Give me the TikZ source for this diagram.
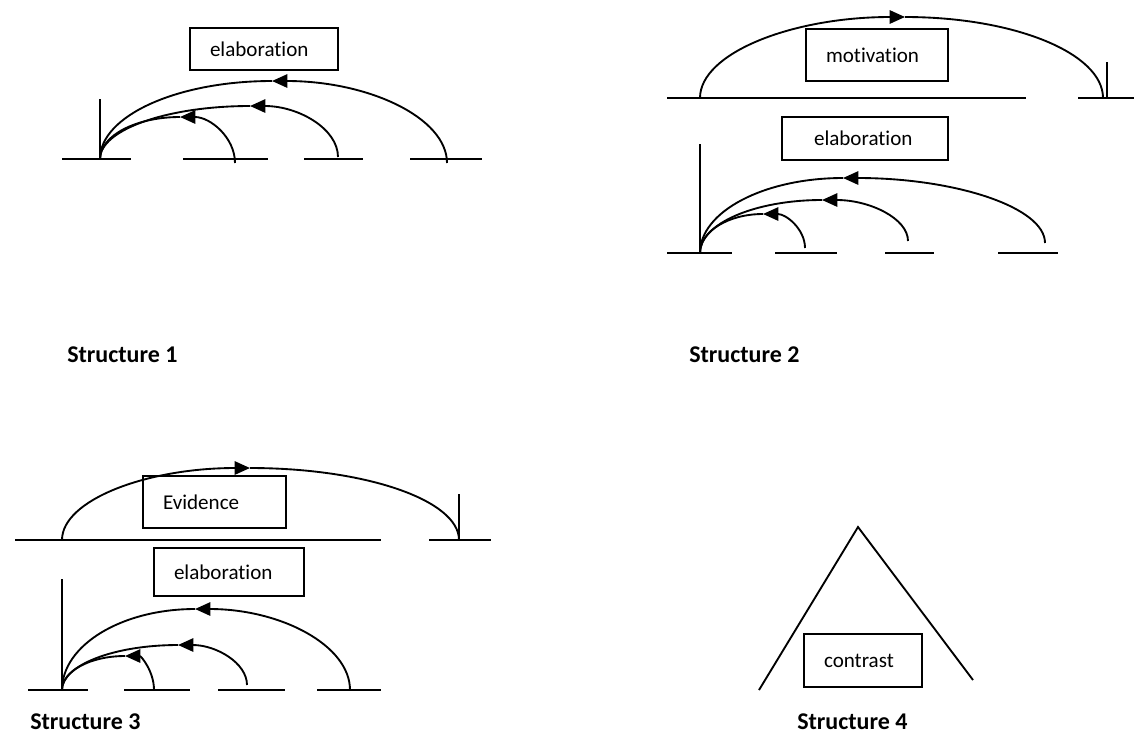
\documentclass[tikz,border=0pt]{standalone}
\usepackage{fontspec}
\setmainfont{Carlito}[Ligatures=NoCommon]
\usetikzlibrary{arrows.meta,calc}

% arc from an end point over a top point down to a root; the tip at the top points toward the root
\newcommand\arcback[3]{%
  \draw[ln,tip] let \p1=(#1),\p2=(#2) in (#1)
    arc[start angle=0,end angle=90,x radius=\x1-\x2,y radius=\y2-\y1];
  \draw[ln] let \p2=(#2),\p3=(#3) in (#2)
    arc[start angle=90,end angle=180,x radius=\x2-\x3,y radius=\y2-\y3];}
% arc from a root over a top point down to an end point; the tip at the top points away from the root
\newcommand\arcfwd[3]{%
  \draw[ln,tip] let \p1=(#1),\p2=(#2) in (#1)
    arc[start angle=180,end angle=90,x radius=\x2-\x1,y radius=\y2-\y1];
  \draw[ln] let \p2=(#2),\p3=(#3) in (#2)
    arc[start angle=90,end angle=0,x radius=\x3-\x2,y radius=\y2-\y3];}

\begin{document}
\begin{tikzpicture}[x=0.75pt,y=-0.75pt,
  ln/.style={line width=1.4pt},
  tip/.style={-{Triangle[length=11.5pt,width=10pt]}},
  relbox/.style={draw,line width=1.3pt,align=left,inner xsep=15pt,inner ysep=0pt,
    font=\fontsize{15.8}{18}\selectfont},
  caption/.style={anchor=base west,inner sep=0pt,font=\fontsize{18}{21}\selectfont\bfseries}]
\useasboundingbox (0,0) rectangle (1134,733);

%% ---------------- Structure 1 ----------------
\node[relbox,text width=81pt,minimum height=31.5pt] (s1box) at (264,49) {elaboration};
\coordinate (s1root) at (100,159);
\coordinate (s1top)  at (100,99);
\draw[ln] (s1top) -- (s1root);
\foreach \a/\b in {62/131,183/268,304/363,410/482}
  \draw[ln] (\a,159) -- (\b,159);
\coordinate (s1ta) at (180,117); \coordinate (s1ea) at (235,163);
\coordinate (s1tb) at (250,106); \coordinate (s1eb) at (338,157);
\coordinate (s1tc) at (272,81);  \coordinate (s1ec) at (447,163);
\arcback{s1ea}{s1ta}{s1root}
\arcback{s1eb}{s1tb}{s1root}
\arcback{s1ec}{s1tc}{s1root}
\node[caption] (cap1) at (67,362) {Structure 1};

%% ---------------- Structure 2 ----------------
% upper level: motivation
\node[relbox,text width=76.5pt,minimum height=39pt] (s2mot) at (877,55) {motivation};
\draw[ln] (667,98) -- (1026,98);
\draw[ln] (1078,98) -- (1134,98);
\coordinate (s2nuc) at (1107,98);
\coordinate (s2nuctop) at (1107,62);
\draw[ln] (s2nuctop) -- (s2nuc);
\coordinate (s2sat) at (700,98);
\coordinate (s2mtop) at (905,17);
\coordinate (s2mend) at (1103,98);
\arcfwd{s2sat}{s2mtop}{s2mend}
% lower level: elaboration
\node[relbox,inner xsep=24pt,text width=76.5pt,minimum height=32.25pt] (s2elab) at (865,138.5) {elaboration};
\coordinate (s2root) at (700,253);
\coordinate (s2vtop) at (700,144);
\draw[ln] (s2vtop) -- (s2root);
\foreach \a/\b in {667/732,775/837,885/934,998/1058}
  \draw[ln] (\a,253) -- (\b,253);
\coordinate (s2ta) at (763,214); \coordinate (s2ea) at (805,248);
\coordinate (s2tb) at (822,200); \coordinate (s2eb) at (908,241);
\coordinate (s2tc) at (843,178); \coordinate (s2ec) at (1045,243);
\arcback{s2ea}{s2ta}{s2root}
\arcback{s2eb}{s2tb}{s2root}
\arcback{s2ec}{s2tc}{s2root}
\node[caption] (cap2) at (689,362) {Structure 2};

%% ---------------- Structure 3 ----------------
% upper level: evidence
\node[relbox,text width=77.25pt,minimum height=39pt] (s3ev) at (214.5,502) {Evidence};
\draw[ln] (15,540) -- (381,540);
\draw[ln] (429,540) -- (491,540);
\coordinate (s3nuc) at (459,540);
\coordinate (s3nuctop) at (459,494);
\draw[ln] (s3nuctop) -- (s3nuc);
\coordinate (s3sat) at (62,540);
\coordinate (s3etop) at (250,468);
\arcfwd{s3sat}{s3etop}{s3nuc}
% lower level: elaboration
\node[relbox,text width=82.5pt,minimum height=36pt] (s3elab) at (229,572) {elaboration};
\coordinate (s3root) at (62,690);
\coordinate (s3vtop) at (62,579);
\draw[ln] (s3vtop) -- (s3root);
\foreach \a/\b in {28/88,124/190,218/285,317/381}
  \draw[ln] (\a,690) -- (\b,690);
\coordinate (s3ta) at (125,656); \coordinate (s3ea) at (154,690);
\coordinate (s3tb) at (178,645); \coordinate (s3eb) at (247,685);
\coordinate (s3tc) at (195,609); \coordinate (s3ec) at (350,690);
\arcback{s3ea}{s3ta}{s3root}
\arcback{s3eb}{s3tb}{s3root}
\arcback{s3ec}{s3tc}{s3root}
\node[caption] (cap3) at (30,729) {Structure 3};

%% ---------------- Structure 4 ----------------
\coordinate (s4apex)  at (858,527);
\coordinate (s4left)  at (759,690);
\coordinate (s4right) at (973,680);
\draw[ln] (s4left) -- (s4apex) -- (s4right);
\node[relbox,text width=58.5pt,minimum height=39.75pt] (s4con) at (863,660.5) {contrast};
\node[caption] (cap4) at (797,729) {Structure 4};
\end{tikzpicture}
\end{document}
